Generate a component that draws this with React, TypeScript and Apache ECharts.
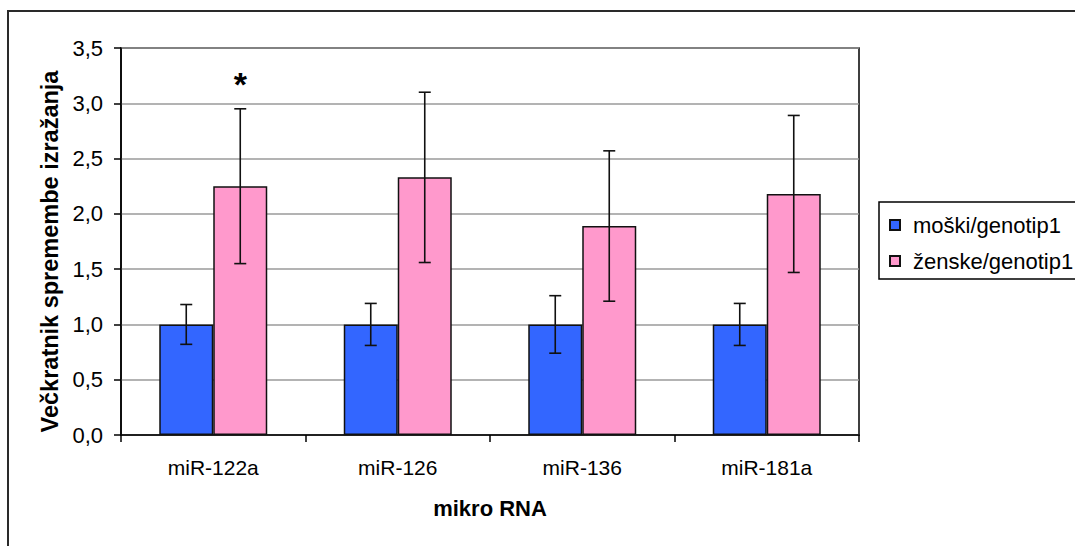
import React, { useEffect, useRef } from "react";
import * as echarts from "echarts";

const categories = ["miR-122a", "miR-126", "miR-136", "miR-181a"];
const maleValues = [1.0, 1.0, 1.0, 1.0];
const maleErrors = [0.18, 0.19, 0.26, 0.19];
const femaleValues = [2.25, 2.33, 1.89, 2.18];
const femaleErrors = [0.7, 0.77, 0.68, 0.71];
const significanceCategory = ["miR-122a"];
const significanceValue = [3.25];
const significanceMark = ["*"];

const seriesNames = ["moški/genotip1", "ženske/genotip1"];
const yAxisTitle = "Večkratnik spremembe izražanja";
const xAxisTitle = "mikro RNA";

const FONT = "'Liberation Sans', Arial, sans-serif";
const BAR_W = 54;

function errorSeries(values: number[], errors: number[], sign: number) {
  return {
    type: "custom",
    z: 5,
    silent: true,
    data: values.map((v, i) => [i, v - errors[i], v + errors[i]]),
    encode: { x: 0, y: [1, 2] },
    renderItem: (params: any, api: any) => {
      const idx = api.value(0);
      const lo = api.coord([idx, api.value(1)]);
      const hi = api.coord([idx, api.value(2)]);
      const cx = lo[0] + (sign * BAR_W) / 2;
      const cap = 6;
      const st = { stroke: "#111", lineWidth: 1.6 };
      return {
        type: "group",
        children: [
          { type: "line", shape: { x1: cx, y1: hi[1], x2: cx, y2: lo[1] }, style: st },
          { type: "line", shape: { x1: cx - cap, y1: hi[1], x2: cx + cap, y2: hi[1] }, style: st },
          { type: "line", shape: { x1: cx - cap, y1: lo[1], x2: cx + cap, y2: lo[1] }, style: st },
        ],
      };
    },
  };
}

export default function App() {
  const ref = useRef<HTMLDivElement>(null);
  useEffect(() => {
    if (!ref.current) return;
    const chart = echarts.init(ref.current, null, { renderer: "svg" });
    chart.setOption({
      animation: false,
      backgroundColor: "#fff",
      textStyle: { fontFamily: FONT, color: "#000" },
      graphic: [
        {
          type: "rect",
          shape: { x: 8, y: 11, width: 1200, height: 700 },
          style: { fill: "none", stroke: "#2a2a2a", lineWidth: 2 },
          z: 100,
          silent: true,
        },
      ],
      grid: {
        left: 121,
        right: 216,
        top: 48,
        bottom: 111,
        show: true,
        borderColor: "#000",
        borderWidth: 1.5,
        containLabel: false,
        outerBoundsMode: "none",
      },
      legend: {
        orient: "vertical",
        left: 879,
        top: 202,
        padding: [12, 40, 7, 10],
        itemGap: 14,
        itemWidth: 10,
        itemHeight: 10,
        icon: "rect",
        borderColor: "#000",
        borderWidth: 1.5,
        backgroundColor: "#fff",
        data: seriesNames,
        textStyle: { fontFamily: FONT, fontSize: 22, color: "#000", padding: [0, 0, 0, 8] },
      },
      xAxis: {
        type: "category",
        data: categories,
        name: xAxisTitle,
        nameLocation: "middle",
        nameGap: 62,
        nameTextStyle: { fontFamily: FONT, fontSize: 22, fontWeight: "bold", color: "#000" },
        axisLine: { lineStyle: { color: "#000", width: 1.5 } },
        axisTick: { show: true, length: 7, lineStyle: { color: "#000", width: 1.5 } },
        axisLabel: { fontFamily: FONT, fontSize: 21, color: "#000", margin: 22 },
      },
      yAxis: {
        type: "value",
        min: 0,
        max: 3.5,
        interval: 0.5,
        name: yAxisTitle,
        nameLocation: "middle",
        nameGap: 59,
        nameRotate: 90,
        nameTextStyle: {
          fontFamily: FONT,
          fontSize: 23.5,
          fontWeight: "bold",
          color: "#000",
          padding: [0, 20, 0, 0],
        },
        axisLine: { show: true, lineStyle: { color: "#000", width: 1.5 } },
        axisTick: { show: true, length: 7, lineStyle: { color: "#000", width: 1.5 } },
        axisLabel: {
          fontFamily: FONT,
          fontSize: 22,
          color: "#000",
          margin: 18,
          formatter: (v: number) => v.toFixed(1).replace(".", ","),
        },
        splitLine: { show: true, lineStyle: { color: "#9a9a9a", width: 1.5 } },
      },
      series: [
        {
          name: seriesNames[0],
          type: "bar",
          data: maleValues,
          barWidth: BAR_W,
          barGap: "0%",
          itemStyle: { color: "#3366FF", borderColor: "#111", borderWidth: 1.5 },
        },
        {
          name: seriesNames[1],
          type: "bar",
          data: femaleValues,
          barWidth: BAR_W,
          barGap: "0%",
          itemStyle: { color: "#FF99CC", borderColor: "#111", borderWidth: 1.5 },
          markPoint: {
            symbol: "circle",
            symbolSize: 0,
            silent: true,
            data: significanceCategory.map((c, i) => ({
              coord: [c, significanceValue[i]],
              value: significanceMark[i],
              label: {
                show: true,
                formatter: significanceMark[i],
                position: "inside",
                offset: [0, 8],
                fontFamily: FONT,
                fontSize: 34,
                fontWeight: "bold",
                color: "#000",
              },
            })),
          },
        },
        errorSeries(maleValues, maleErrors, -1),
        errorSeries(femaleValues, femaleErrors, 1),
      ],
    });
    return () => chart.dispose();
  }, []);
  return (
    <div
      ref={ref}
      style={{ position: "fixed", left: 0, top: 0, width: 1075, height: 546, background: "#fff" }}
    />
  );
}
